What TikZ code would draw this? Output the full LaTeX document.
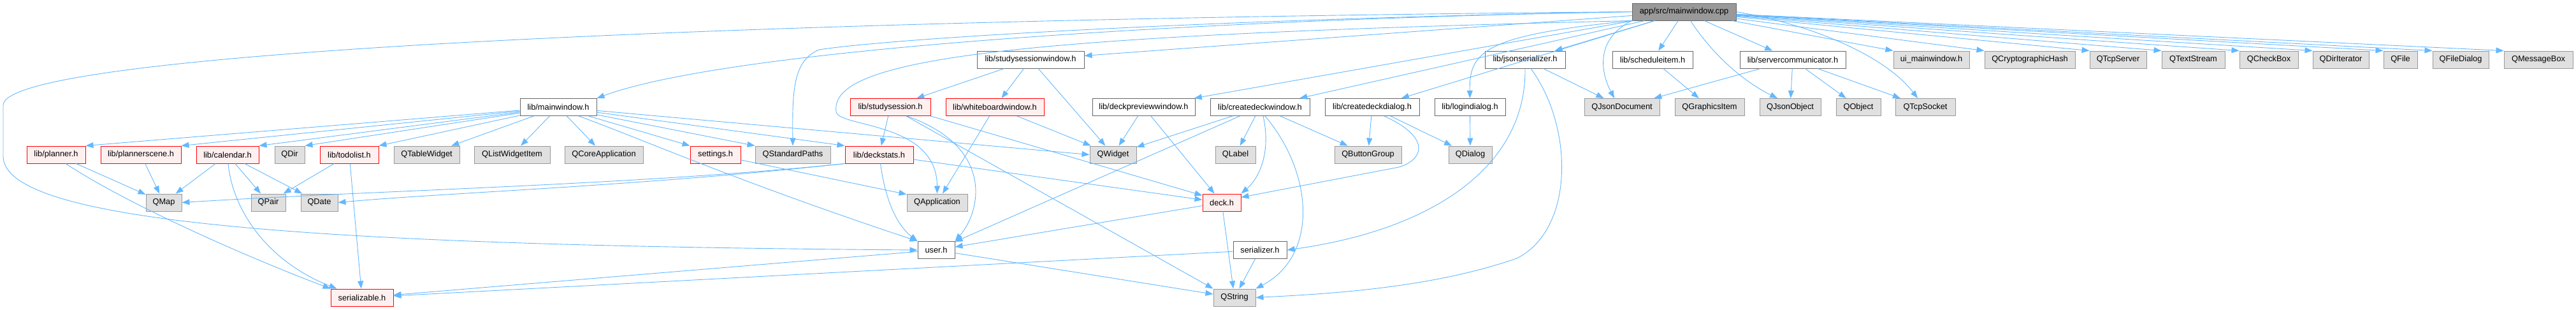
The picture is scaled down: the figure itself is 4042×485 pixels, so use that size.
\documentclass[tikz,border=0pt]{standalone}
\usepackage{fontspec}
\setmainfont{Liberation Sans}
\usepackage{tikz}
\usetikzlibrary{arrows.meta}

\definecolor{edgeblue}{HTML}{63B8FF}
\definecolor{rootfill}{HTML}{999999}
\definecolor{darkline}{HTML}{666666}
\definecolor{extfill}{HTML}{E0E0E0}
\definecolor{extline}{HTML}{999999}
\definecolor{truncfill}{HTML}{FFF0F0}

\begin{document}
\begin{tikzpicture}[x=1pt,y=-1pt,
  box/.style={rectangle,draw,line width=1pt,minimum height=27,inner sep=0pt,
              font=\fontsize{12.8}{15}\selectfont},
  rootbox/.style={box,fill=rootfill,draw=darkline},
  doc/.style={box,fill=white,draw=darkline},
  trunc/.style={box,fill=truncfill,draw=red},
  ext/.style={box,fill=extfill,draw=extline},
  dep/.style={draw=edgeblue,line width=0.9pt,-{Triangle[length=12pt,width=9pt]}},
]
  \useasboundingbox (0,0) rectangle (4042,485);

  \node[rootbox,minimum width=163] (root) at (2642.5,18.5) {app/src/mainwindow.cpp};

  \node[doc,minimum width=168]   (ssw)     at (1617,93.5)   {lib/studysessionwindow.h};
  \node[doc,minimum width=126]   (json)    at (2393,93.5)   {lib/jsonserializer.h};
  \node[doc,minimum width=126]   (sched)   at (2593,93.5)   {lib/scheduleitem.h};
  \node[doc,minimum width=166]   (srv)     at (2813,93.5)   {lib/servercommunicator.h};
  \node[ext,minimum width=119]   (uimw)    at (3030.5,93.5) {ui\_mainwindow.h};
  \node[ext,minimum width=142]   (crypt)   at (3185,93.5)   {QCryptographicHash};
  \node[ext,minimum width=89]    (tcpsrv)  at (3323.5,93.5) {QTcpServer};
  \node[ext,minimum width=99]    (tstream) at (3441.5,93.5) {QTextStream};
  \node[ext,minimum width=92]    (chkbox)  at (3560,93.5)   {QCheckBox};
  \node[ext,minimum width=88]    (diriter) at (3673,93.5)   {QDirIterator};
  \node[ext,minimum width=53]    (qfile)   at (3766.5,93.5) {QFile};
  \node[ext,minimum width=88]    (filedlg) at (3861,93.5)   {QFileDialog};
  \node[ext,minimum width=108]   (msgbox)  at (3983,93.5)   {QMessageBox};

  \node[doc,minimum width=120]   (mw)      at (876,168)     {lib/mainwindow.h};
  \node[trunc,minimum width=126] (ss)      at (1397,168)    {lib/studysession.h};
  \node[trunc,minimum width=154] (wb)      at (1561,168)    {lib/whiteboardwindow.h};
  \node[doc,minimum width=161]   (dpw)     at (1794.5,168)  {lib/deckpreviewwindow.h};
  \node[doc,minimum width=156]   (cdw)     at (1977,168)    {lib/createdeckwindow.h};
  \node[doc,minimum width=148]   (cdd)     at (2153,168)    {lib/createdeckdialog.h};
  \node[doc,minimum width=111]   (login)   at (2306.5,168)  {lib/logindialog.h};
  \node[ext,minimum width=118]   (jdoc)    at (2545,168)    {QJsonDocument};
  \node[ext,minimum width=109]   (gitem)   at (2682.5,168)  {QGraphicsItem};
  \node[ext,minimum width=96]    (jobj)    at (2809,168)    {QJsonObject};
  \node[ext,minimum width=70]    (qobj)    at (2916,168)    {QObject};
  \node[ext,minimum width=94]    (tcpsock) at (3021,168)    {QTcpSocket};

  \node[trunc,minimum width=92]  (planner) at (88,242.5)    {lib/planner.h};
  \node[trunc,minimum width=126] (pscene)  at (221,242.5)   {lib/plannerscene.h};
  \node[trunc,minimum width=98]  (cal)     at (357,242.5)   {lib/calendar.h};
  \node[ext,minimum width=47]    (qdir)    at (454.5,242.5) {QDir};
  \node[trunc,minimum width=92]  (todo)    at (548,242.5)   {lib/todolist.h};
  \node[ext,minimum width=103]   (table)   at (669.5,242.5) {QTableWidget};
  \node[ext,minimum width=119]   (lwitem)  at (803.5,242.5) {QListWidgetItem};
  \node[ext,minimum width=123]   (coreapp) at (947.5,242.5) {QCoreApplication};
  \node[trunc,minimum width=79]  (settings) at (1122.5,242.5) {settings.h};
  \node[ext,minimum width=118]   (stdpaths) at (1244,242.5) {QStandardPaths};
  \node[trunc,minimum width=107] (dstats)  at (1379.5,242.5) {lib/deckstats.h};
  \node[ext,minimum width=73]    (qwidget) at (1746.5,242.5) {QWidget};
  \node[ext,minimum width=63]    (qlabel)  at (1938.5,242.5) {QLabel};
  \node[ext,minimum width=105]   (btngrp)  at (2146.5,242.5) {QButtonGroup};
  \node[ext,minimum width=68]    (qdialog) at (2307,242.5)  {QDialog};

  \node[ext,minimum width=56]    (qmap)    at (257,317.5)   {QMap};
  \node[ext,minimum width=54]    (qpair)   at (421,317.5)   {QPair};
  \node[ext,minimum width=58]    (qdate)   at (501,317.5)   {QDate};
  \node[ext,minimum width=95]    (qapp)    at (1470.5,317.5) {QApplication};
  \node[trunc,minimum width=60]  (deck)    at (1917,317.5)  {deck.h};

  \node[doc,minimum width=58]    (user)    at (1469,392)    {user.h};
  \node[doc,minimum width=84]    (serzr)   at (1977,392)    {serializer.h};

  \node[trunc,minimum width=98]  (serble)  at (568,466.5)   {serializable.h};
  \node[ext,minimum width=66]    (qstring) at (1937,466.5)  {QString};

  \draw[dep] (root.west) .. controls (1900,30) and (1150,75) .. (mw.north east);
  \draw[dep] (root.west) .. controls (1200,30) and (5,80) .. (5,165)
             -- (5,245) .. controls (5,350) and (500,385) .. (user.west);
  \draw[dep] (root.west) .. controls (1900,30) and (1400,60) .. (1285,78)
             .. controls (1245,95) and (1243,140) .. (stdpaths.north);
  \draw[dep] (root.south west) .. controls (1600,55) and (1300,90) .. (1312,175)
             .. controls (1315,200) and (1470,190) .. (qapp.north);
  \foreach \t in {ssw,dpw,cdw,cdd,json,sched,srv}
    \draw[dep] (root) -- (\t);
  \draw[dep] (root.south west) .. controls (2330,55) and (2305,80) .. (login.north);
  \draw[dep] (root.south west) .. controls (2505,60) and (2510,110) .. ([xshift=-12pt]jdoc.north);
  \draw[dep] ([xshift=10pt]root.south) .. controls (2690,90) and (2740,130) .. ([xshift=-20pt]jobj.north);
  \draw[dep] (root.east) .. controls (2850,40) and (2960,90) .. ([xshift=-12pt]tcpsock.north);
  \foreach \t in {uimw,crypt,tcpsrv,tstream,chkbox,diriter,qfile,filedlg,msgbox}
    \draw[dep] (root) -- (\t.north west);

  \foreach \t in {planner,pscene,cal,qdir,todo}
    \draw[dep] (mw) -- (\t.north east);
  \foreach \t in {table,lwitem,coreapp}
    \draw[dep] (mw) -- (\t);
  \foreach \t in {settings,stdpaths,dstats}
    \draw[dep] (mw) -- (\t.north west);
  \draw[dep] (mw) -- (qwidget.west);
  \draw[dep] ([xshift=32pt]mw.south) .. controls (1000,215) and (1150,282) .. (user.north west);

  \foreach \t in {ss,wb,qwidget}
    \draw[dep] (ssw) -- (\t);

  \draw[dep] (ss) -- (dstats);
  \draw[dep] (ss.south east) -- (deck.160);
  \draw[dep] (ss) -- (qstring.north west);
  \draw[dep] ([xshift=26pt]ss.south) .. controls (1560,230) and (1540,330) .. (user.north east);

  \draw[dep] (wb) -- (qwidget);
  \draw[dep] (wb) -- (qapp);
  \draw[dep] (dpw) -- (qwidget);
  \draw[dep] (dpw) -- (deck);

  \foreach \t in {qwidget,user,qlabel,btngrp}
    \draw[dep] (cdw) -- (\t);
  \draw[dep] ([xshift=5pt]cdw.south) .. controls (1995,240) and (1975,280) .. (deck.north east);
  \draw[dep] ([xshift=8pt]cdw.south) .. controls (2060,270) and (2070,400) .. (qstring.north east);

  \draw[dep] (cdd) -- (btngrp);
  \draw[dep] (cdd) -- (qdialog);
  \draw[dep] ([xshift=19pt]cdd.south) .. controls (2245,215) and (2235,250) .. (2195,262) -- (deck.15);
  \draw[dep] (login) -- (qdialog);

  \draw[dep] (json) -- (jdoc);
  \draw[dep] (json.south) .. controls (2395,260) and (2250,360) .. (serzr.east);
  \draw[dep] ([xshift=9pt]json.south) .. controls (2470,200) and (2470,360) .. (2380,405)
             .. controls (2250,450) and (2100,460) .. (qstring.east);
  \draw[dep] (sched) -- (gitem);
  \foreach \t in {jdoc,jobj,qobj,tcpsock}
    \draw[dep] (srv) -- (\t);

  \draw[dep] (planner) -- (qmap);
  \draw[dep] ([xshift=15pt]planner.south) .. controls (200,320) and (380,400) .. (serble.north west);
  \draw[dep] (pscene) -- (qmap);
  \foreach \t in {qmap,qpair,qdate}
    \draw[dep] (cal) -- (\t);
  \draw[dep] ([xshift=1pt]cal.south) .. controls (365,330) and (420,410) .. ([xshift=10pt]serble.north west);
  \draw[dep] (todo) -- (qpair);
  \draw[dep] (todo) -- (serble);
  \draw[dep] (settings) -- (qapp.165);

  \draw[dep] (dstats.south west) .. controls (1000,290) and (600,298) .. (qmap.east);
  \draw[dep] (dstats.south west) .. controls (1000,292) and (700,302) .. (qdate.east);
  \draw[dep] (dstats) -- (deck.172);
  \draw[dep] ([xshift=2pt]dstats.south) .. controls (1390,320) and (1410,355) .. (user.north west);

  \draw[dep] (deck) -- (user);
  \draw[dep] (deck) -- (qstring);
  \draw[dep] (user) -- (serble);
  \draw[dep] (user) -- (qstring);
  \draw[dep] (serzr) -- (serble);
  \draw[dep] (serzr) -- (qstring);
\end{tikzpicture}
\end{document}
